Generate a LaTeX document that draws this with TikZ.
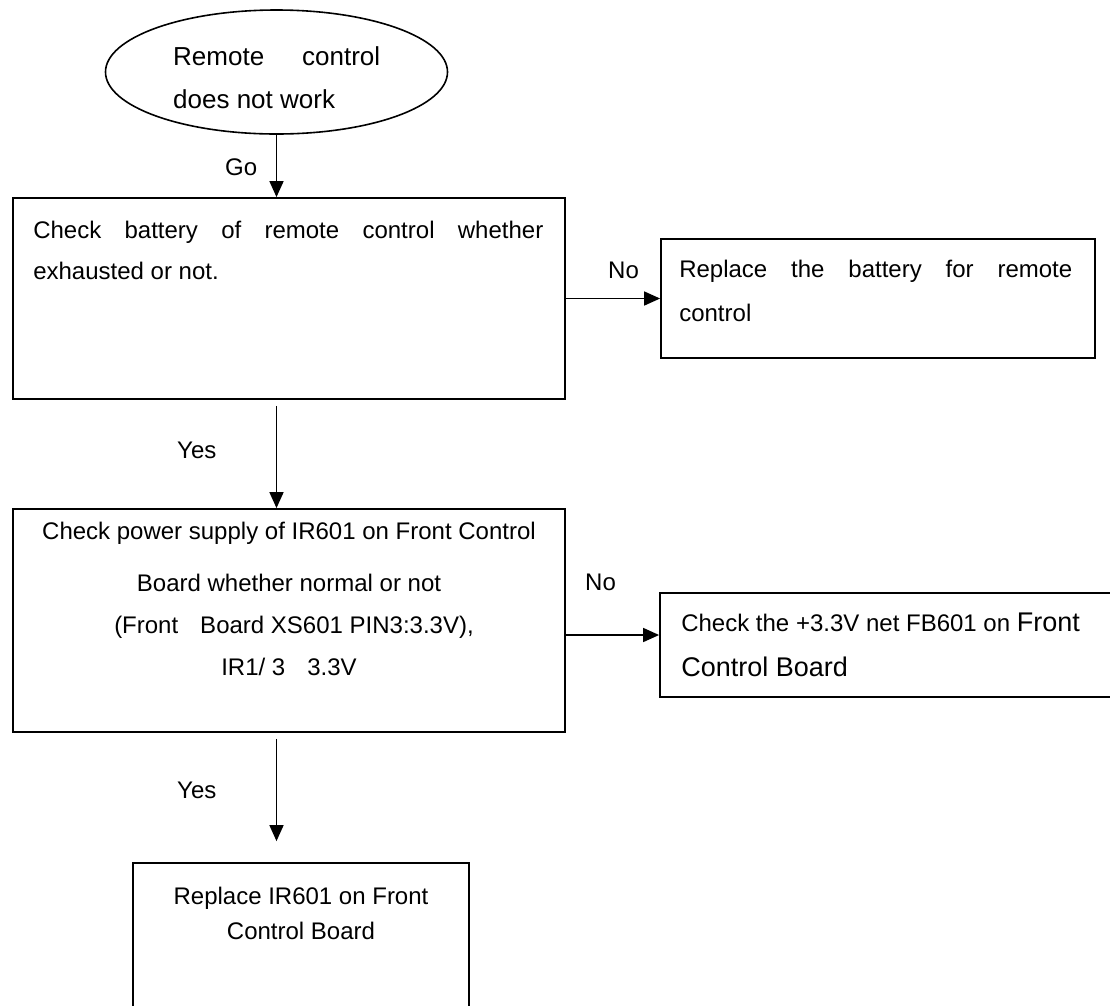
\documentclass[tikz,border=0pt]{standalone}
\usepackage{fontspec}
\setmainfont{Liberation Sans}
\usetikzlibrary{shapes.geometric,arrows.meta,calc}
\begin{document}
\begin{tikzpicture}[x=1pt,y=-1pt,
  box/.style={draw,line width=1.8pt,inner sep=0pt,rectangle},
  ellbox/.style={draw,line width=1.6pt,ellipse,inner sep=0pt},
  txt/.style={inner sep=0pt,font=\fontsize{24}{42}\selectfont},
  lbl/.style={inner sep=0pt,font=\fontsize{24}{29}\selectfont,anchor=base west},
  arr/.style={line width=1.6pt,-{Triangle[length=16pt,width=14pt]}}]
\useasboundingbox (0,0) rectangle (1110,1005);
\fill[white] (0,0) rectangle (1110,1005);

% shapes
\node[ellbox,minimum width=342pt,minimum height=124pt] (start) at (276.5,72) {};
\node[box,minimum width=552pt,minimum height=201pt] (b1) at (289,298.5) {};
\node[box,minimum width=434pt,minimum height=119pt] (b2) at (878,298.5) {};
\node[box,minimum width=552pt,minimum height=223pt] (b3) at (289,620.5) {};
\node[box,minimum width=465pt,minimum height=104pt] (b4) at (892.5,645) {};
\node[box,minimum width=336pt,minimum height=152pt] (b5) at (301,939) {};

% texts
\node[txt,anchor=base west] (t0) at ($(start.center)+(-103.5,-7)$)
  {\parbox[t]{207pt}{\fontsize{26}{43}\selectfont\makebox[207pt][s]{Remote control}\\does not work}};
\node[txt,anchor=base west] (t1) at ($(b1.north west)+(21,41)$)
  {\parbox[t]{510pt}{\fontsize{24}{41}\selectfont\makebox[510pt][s]{Check battery of remote control whether}\\exhausted or not.}};
\node[txt,anchor=base west] (t2) at ($(b2.north west)+(19,39)$)
  {\parbox[t]{393pt}{\fontsize{24}{44}\selectfont\makebox[393pt][s]{Replace the battery for remote}\\control}};
\node[txt,anchor=base] (t3) at ($(b3.north)+(0,31)$)
  {\parbox[t]{552pt}{\fontsize{24}{42}\selectfont\centering Check power supply of IR601 on Front Control\\[10pt]
   Board whether normal or not\\
   \hspace*{10pt}(Front\hspace{22pt}Board XS601 PIN3:3.3V),\\
   IR1/ 3\hspace{22pt}3.3V}};
\node[txt,anchor=base west] (t4) at ($(b4.north west)+(22,39)$)
  {\parbox[t]{440pt}{\fontsize{24}{45}\selectfont Check the +3.3V net FB601 on {\fontsize{27}{45}\selectfont Front}\\{\fontsize{27}{45}\selectfont Control Board}}};
\node[txt,anchor=base] (t5) at ($(b5.north)+(0,42)$)
  {\parbox[t]{336pt}{\fontsize{24}{35}\selectfont\centering Replace IR601 on Front\\Control Board}};

% labels
\node[lbl] (lgo) at (225,175) {Go};
\node[lbl] (lno1) at (608,278) {No};
\node[lbl] (lyes1) at (177,458) {Yes};
\node[lbl] (lno2) at (585,590) {No};
\node[lbl] (lyes2) at (177,798) {Yes};

% connectors
\coordinate (a1) at ([yshift=-6pt]b1.south);
\coordinate (a2) at ($(b3.east)+(0,14.5)$);
\coordinate (a3) at ([yshift=-6pt]b3.south);
\coordinate (e3) at ($(b5.north)+(0,-21)$);
\draw[arr] (start.south) -- (b1.north -| start.south);
\draw[arr] (b1.east) -- (b2.west);
\draw[arr] (a1 -| start.south) -- (b3.north -| start.south);
\draw[arr] (a2) -- (a2 -| b4.west);
\draw[arr] (a3 -| start.south) -- (e3 -| start.south);
\end{tikzpicture}
\end{document}
